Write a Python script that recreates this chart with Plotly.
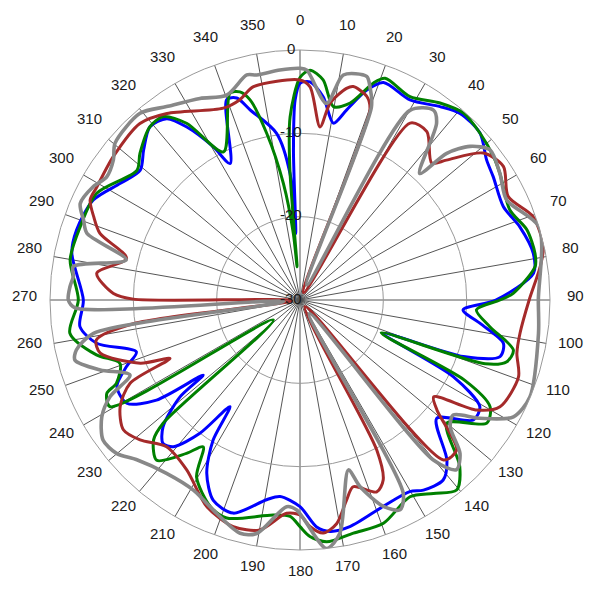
import math
import plotly.graph_objects as go

# ---- data (angle in degrees, level in dB) ----
blue_theta = [0, 2.6, 6.5, 10.7, 13.8, 17.6, 21, 28.8, 35.9, 40.6, 47.2, 53.1, 57.5, 65.3, 71.6, 78.7, 83.5,
              90, 93.5, 97.4, 102, 105.8, 109.1, 111.8, 116.6, 120.7, 124.7, 130.9, 137.5, 141.5, 147, 150.2,
              158, 167.6, 172.6, 175.8, 180, 185.8, 189.5, 197.4, 203.4, 208.3, 211.8, 213.3, 216.9, 220.8,
              223.7, 227.2, 231.1, 232.2, 235.1, 239.2, 244.7, 249, 252.4, 258, 263.1, 270, 281.6, 287.4,
              295.8, 303, 309.1, 313.8, 319.1, 323.7, 326.8, 330.5, 332.9, 339.9, 342.6, 345.3, 352, 355.5,
              356.3, 357.5, 358.6, 360]
blue_r = [-4.0, -3.8, -5.45, -8.4, -6.5, -3.6, -2.05, -2.6, -1.35, -0.5, -0.55, -2.0, -2.5, -3.15, -2.2, -1.45, -1.8,
          -6.5, -10.4, -8.2, -5.05, -5.05, -9.25, -19.2, -9.4, -4.9, -4.7, -8.3, -3.9, -2.4, -2.8, -3.5,
          -3.3, -2.15, -2.0, -2.7, -5.2, -6.3, -5.7, -3.2, -3.8, -6.4, -10.2, -14.7, -10.0, -6.75,
          -6.2, -7.6, -11.5, -15.3, -9.0, -5.8, -5.7, -7.7, -9.4, -5.05, -3.4, -4.0, -2.05, -1.9,
          -2.45, -4.3, -5.3, -4.0, -2.5, -3.0, -5.2, -8.9, -11.6, -4.4, -4.6, -6.4, -9.8, -14.8,
          -22.0, -12.0, -6.0, -4.0]

green_theta = [0, 2.5, 6, 9.8, 14.3, 18.7, 21, 28.4, 35.4, 41.2, 47.2, 53.5, 57.6, 66.8, 72.8, 78.8, 81.9,
               88.2, 90, 93.2, 98, 103.2, 106.6, 109, 112, 116, 119.3, 123.4, 130, 136.2, 140.5, 145.4, 150.8,
               159.5, 167.1, 173.7, 177.6, 180, 182.6, 187.1, 198.6, 203.5, 210.3, 213.4, 216.5, 221.8, 226.3,
               228, 233.2, 240.7, 244.2, 245.6, 250.6, 254.9, 261.8, 270, 279.9, 288.4, 297.7, 308.5, 312.5,
               319, 323.3, 327.3, 332.7, 341.3, 343.9, 346, 348.7, 351.9, 354.3, 355, 355.6, 356.9, 360]
green_r = [-3.3, -2.4, -3.45, -6.45, -5.6, -2.5, -1.5, -2.25, -1.0, -0.2, -0.55, -1.1, -1.6, -2.6, -1.5, -1.25, -1.5,
           -4.4, -6.0, -8.8, -7.0, -3.7, -4.1, -6.5, -19.5, -8.0, -3.85, -3.15, -7.0, -2.3, -0.45, -1.8, -2.95,
           -1.4, -1.3, -0.8, -1.6, -2.8, -4.0, -4.0, -2.4, -3.0, -5.4, -8.9, -7.1, -4.2, -5.7,
           -7.9, -26.0, -3.85, -4.25, -5.8, -7.1, -4.7, -2.1, -3.4, -2.0, -2.2, -2.45, -5.0, -3.95,
           -2.5, -2.55, -4.8, -10.0, -3.8, -4.0, -5.25, -9.6, -15.9, -22.0, -26.0, -14.0, -8.0, -3.3]

brown_theta = [0, 2.7, 6.6, 8.7, 12.4, 14, 18.2, 20.2, 25, 31.9, 37, 43.9, 46.3, 51.3, 56.7, 63.6, 70.3, 77.6,
               82.1, 90, 98.6, 103.8, 109.4, 118.1, 121.9, 125.9, 128.8, 133.7, 138.1, 143, 152.9, 155.2,
               158.2, 164.1, 166.9, 170.7, 174.3, 177.5, 180, 183.6, 189.9, 196.4, 204.3, 213.7, 222.3,
               228.8, 233.7, 239.3, 243.9, 245.8, 248.4, 255.1, 258.9, 262, 266, 270.3, 272, 277.5, 283.5,
               288.4, 292, 295.5, 299.1, 307.5, 317.8, 324.5, 338.2, 343.3, 347.7, 360]
brown_r = [-3.6, -4.4, -9.1, -6.1, -4.0, -3.6, -4.3, -5.7, -29.0, -5.0, -4.7, -7.2, -5.7, -1.8, -0.8, -2.1, -0.3, -0.1,
           -0.9, -2.5, -3.3, -3.2, -2.2, -2.8, -5.0, -10.2, -8.9, -4.0, -4.2, -29.0, -9.8, -6.2,
           -5.2, -6.7, -5.35, -2.8, -1.9, -2.8, -4.2, -4.35, -2.0, -1.65, -2.8, -5.5, -6.2,
           -4.5, -3.7, -4.9, -7.3, -12.9, -9.4, -5.2, -5.1, -10.0, -29.0, -10.0, -7.6, -5.4, -8.6,
           -4.7, -3.3, -2.1, -2.1, -1.75, -1.4, -2.5, -5.2, -4.9, -3.8, -3.6]

gray_theta = [0, 1.7, 7.7, 10.9, 16.6, 18.2, 20.3, 24, 30.1, 35.1, 37.7, 43.4, 45, 47.9, 51.7, 57.6, 64.2, 73,
              90, 98, 112.8, 118.7, 123.3, 126.9, 130.2, 133.8, 137.3, 140.2, 146, 151.9, 154.5, 158, 162.2,
              164.1, 170.3, 173.9, 180.9, 183.7, 190.5, 194.4, 201.3, 209.3, 217.6, 225.6, 230.1, 234.6,
              239.5, 243, 246.2, 250.7, 255, 257.4, 260.8, 265, 268, 270, 273.3, 275.9, 278.4, 283, 287.4,
              290.3, 293.7, 298.7, 302.5, 306.9, 310.3, 319.4, 325.4, 333.6, 340.3, 346.7, 349.1, 355, 360]
gray_r = [-2.2, -2.4, -6.2, -2.5, -2.0, -3.1, -5.3, -28.0, -3.7, -2.15, -3.2, -9.1, -5.1, -2.5, -0.95, -1.6, -2.45, 0.0,
          -1.4, -1.1, -0.06, -0.8, -4.15, -7.0, -6.4, -3.4, -2.3, -5.0, -28.0, -3.7, -2.1, -3.3, -6.5,
          -8.8, -1.6, 0.0, -4.8, -5.15, -1.5, -1.1, -2.5, -3.85, -3.75, -2.6, -1.3, -1.0,
          -2.4, -4.4, -7.7, -4.6, -2.05, -2.5, -4.9, -28.0, -3.0, -2.2, -2.35, -2.65, -2.5, -8.6, -3.2,
          -2.3, -1.2, -1.7, -2.5, -2.0, -0.9, -0.5, -1.8, -3.0, -3.9, -2.25, -2.5, -2.3, -2.2]

angle_ticks = list(range(0, 360, 10))
radial_ticks = [-30, -20, -10, 0]
r_min, r_max = -30, 0

series = [
    ("blue", blue_theta, blue_r, "#0000ff", 3),
    ("green", green_theta, green_r, "#008000", 3),
    ("brown", brown_theta, brown_r, "#a52a2a", 3),
    ("gray", gray_theta, gray_r, "#888888", 3.6),
]

fig = go.Figure()
for name, th, rr, col, w in series:
    fig.add_trace(go.Scatterpolar(
        theta=th, r=rr, mode="lines", name=name,
        line=dict(color=col, width=w, shape="spline", smoothing=0.8),
        showlegend=False, hoverinfo="skip"))

L, T, SIZE = 42, 42, 500
annotations = []
label_radius = 1.1
for a in angle_ticks:
    rad = math.radians(a)
    xf = 0.5 + 0.5 * label_radius * math.sin(rad)
    yf = 0.5 + 0.5 * label_radius * math.cos(rad) + 0.01
    annotations.append(dict(text=str(a), x=xf, y=yf, xref="paper", yref="paper",
                            xanchor="center", yanchor="middle", showarrow=False,
                            font=dict(size=15, color="#1a1a1a")))
for v in radial_ticks:
    frac = (v - r_min) / (r_max - r_min)
    annotations.append(dict(text=str(v), x=0.5 - 0.019, y=0.5 + 0.5 * frac + 0.004,
                            xref="paper", yref="paper", xanchor="center", yanchor="middle",
                            showarrow=False, font=dict(size=15, color="#1a1a1a")))

fig.update_layout(
    width=600, height=600,
    margin=dict(l=L, r=600 - L - SIZE, t=T, b=600 - T - SIZE),
    paper_bgcolor="white",
    font=dict(family="Liberation Sans, Arial, sans-serif", size=15, color="#1a1a1a"),
    annotations=annotations,
    polar=dict(
        bgcolor="white",
        domain=dict(x=[0, 1], y=[0, 1]),
        angularaxis=dict(
            rotation=90, direction="clockwise",
            tickmode="array", tickvals=angle_ticks,
            showticklabels=False,
            showline=True, linecolor="#999999", linewidth=1,
            showgrid=True, gridcolor="#555555", gridwidth=0.6,
            ticks="",
        ),
        radialaxis=dict(
            range=[r_min, r_max], tickmode="array", tickvals=radial_ticks,
            showticklabels=False,
            angle=90, showline=False, ticks="",
            showgrid=True, gridcolor="#999999", gridwidth=1,
        ),
    ),
)

fig.write_html("out.html")
